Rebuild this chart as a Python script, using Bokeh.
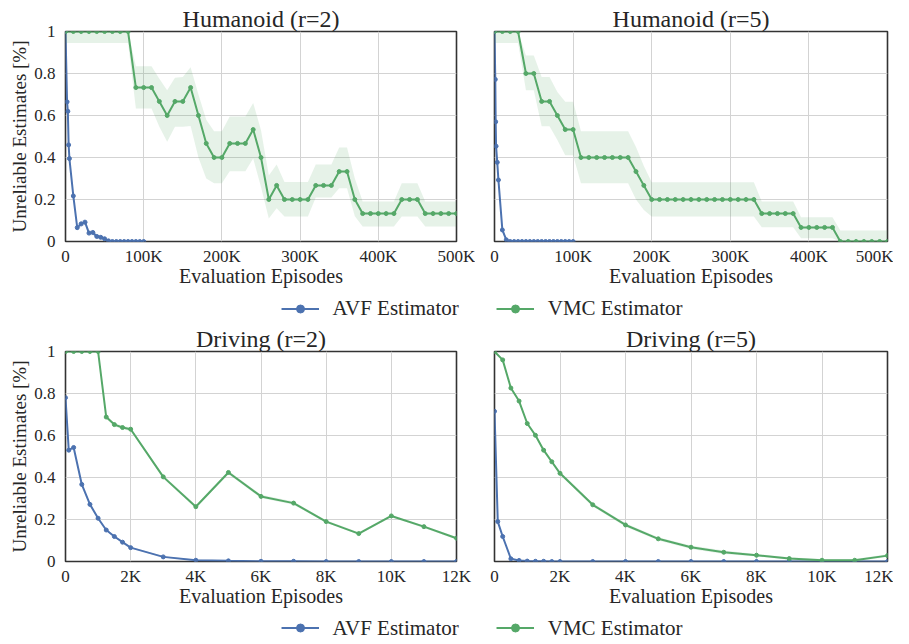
from bokeh.plotting import figure
from bokeh.layouts import column, row
from bokeh.models import Range1d, FixedTicker, Legend, LegendItem, ColumnDataSource
from bokeh.embed import file_html
from bokeh.resources import INLINE

# ---------------- data ----------------
# Humanoid: x in thousands of evaluation episodes
H_VMC_X = list(range(0, 501, 10))
H2_VMC_Y = [1.0, 1.0, 1.0, 1.0, 1.0, 1.0, 1.0, 1.0, 1.0,
            0.733, 0.733, 0.733, 0.667, 0.6, 0.667, 0.667, 0.733, 0.6, 0.467,
            0.4, 0.4, 0.467, 0.467, 0.467, 0.533, 0.4, 0.2, 0.267, 0.2,
            0.2, 0.2, 0.2, 0.267, 0.267, 0.267, 0.333, 0.333, 0.2, 0.133,
            0.133, 0.133, 0.133, 0.133, 0.2, 0.2, 0.2, 0.133, 0.133, 0.133,
            0.133, 0.133]
H2_VMC_LO = [0.945, 0.945, 0.945, 0.945, 0.945, 0.945, 0.945, 0.945, 0.945,
             0.633, 0.633, 0.633, 0.546, 0.475, 0.546, 0.546, 0.55, 0.40, 0.30,
             0.277, 0.277, 0.335, 0.335, 0.335, 0.395, 0.26, 0.11, 0.158, 0.119,
             0.119, 0.119, 0.119, 0.21, 0.21, 0.21, 0.253, 0.253, 0.12, 0.071,
             0.071, 0.071, 0.071, 0.071, 0.119, 0.119, 0.119, 0.071, 0.071, 0.071,
             0.071, 0.071]
H2_VMC_HI = [1.0, 1.0, 1.0, 1.0, 1.0, 1.0, 1.0, 1.0, 1.0,
             0.835, 0.835, 0.835, 0.775, 0.72, 0.78, 0.783, 0.83, 0.70, 0.58,
             0.525, 0.525, 0.595, 0.595, 0.595, 0.66, 0.53, 0.314, 0.367, 0.283,
             0.283, 0.283, 0.283, 0.367, 0.367, 0.367, 0.448, 0.448, 0.30, 0.19,
             0.19, 0.19, 0.19, 0.19, 0.277, 0.277, 0.277, 0.19, 0.19, 0.19,
             0.19, 0.19]

H2_AVF_X = [0, 2, 3, 4, 5, 10, 15, 20, 25, 30, 35, 40, 45, 50, 55, 60, 65, 70,
            75, 80, 85, 90, 95, 100]
H2_AVF_Y = [1.0, 0.665, 0.62, 0.46, 0.395, 0.217, 0.066, 0.084, 0.092, 0.04,
            0.043, 0.024, 0.02, 0.013, 0.003, 0.0, 0.0, 0.0, 0.0, 0.0, 0.0, 0.0,
            0.0, 0.0]
H2_AVF_ERR = [0.0, 0.01, 0.01, 0.01, 0.01, 0.012, 0.012, 0.014, 0.014, 0.012,
              0.012, 0.01, 0.01, 0.008, 0.006, 0.006, 0.006, 0.006, 0.006, 0.006,
              0.006, 0.006, 0.006, 0.006]

H5_VMC_Y = [1.0, 1.0, 1.0, 1.0, 0.8, 0.8, 0.667, 0.667, 0.6, 0.533, 0.533,
            0.4, 0.4, 0.4, 0.4, 0.4, 0.4, 0.4, 0.333, 0.267,
            0.2, 0.2, 0.2, 0.2, 0.2, 0.2, 0.2, 0.2, 0.2, 0.2, 0.2, 0.2, 0.2, 0.2,
            0.133, 0.133, 0.133, 0.133, 0.133,
            0.067, 0.067, 0.067, 0.067, 0.067,
            0.0, 0.0, 0.0, 0.0, 0.0, 0.0, 0.0]
H5_VMC_LO = [0.945, 0.945, 0.945, 0.945, 0.72, 0.72, 0.549, 0.549, 0.483, 0.411, 0.411,
             0.277, 0.277, 0.277, 0.277, 0.277, 0.277, 0.277, 0.2, 0.15,
             0.119, 0.119, 0.119, 0.119, 0.119, 0.119, 0.119, 0.119, 0.119, 0.119,
             0.119, 0.119, 0.119, 0.119,
             0.068, 0.068, 0.068, 0.068, 0.068,
             0.016, 0.016, 0.016, 0.016, 0.016,
             0.0, 0.0, 0.0, 0.0, 0.0, 0.0, 0.0]
H5_VMC_HI = [1.0, 1.0, 1.0, 1.0, 0.886, 0.886, 0.783, 0.783, 0.712, 0.665, 0.665,
             0.525, 0.525, 0.525, 0.525, 0.525, 0.525, 0.525, 0.45, 0.36,
             0.282, 0.282, 0.282, 0.282, 0.282, 0.282, 0.282, 0.282, 0.282, 0.282,
             0.282, 0.282, 0.282, 0.282,
             0.19, 0.19, 0.19, 0.19, 0.19,
             0.116, 0.116, 0.116, 0.116, 0.116,
             0.052, 0.052, 0.052, 0.052, 0.052, 0.052, 0.052]

H5_AVF_X = [0, 1, 1.5, 2, 3.5, 5, 10, 15, 20, 25, 30, 35, 40, 45, 50, 55, 60,
            65, 70, 75, 80, 85, 90, 95, 100]
H5_AVF_Y = [1.0, 0.772, 0.57, 0.454, 0.377, 0.293, 0.055, 0.008, 0.0, 0.0, 0.0,
            0.0, 0.0, 0.0, 0.0, 0.0, 0.0, 0.0, 0.0, 0.0, 0.0, 0.0, 0.0, 0.0, 0.0]
H5_AVF_ERR = [0.0, 0.01, 0.01, 0.01, 0.01, 0.01, 0.01, 0.008, 0.007, 0.007, 0.007,
              0.007, 0.007, 0.007, 0.007, 0.007, 0.007, 0.007, 0.007, 0.007, 0.007,
              0.007, 0.007, 0.007, 0.007]

# Driving: x in thousands of evaluation episodes
D_VMC_X = [0, 0.25, 0.5, 0.75, 1.0, 1.25, 1.5, 1.75, 2, 3, 4, 5, 6, 7, 8, 9, 10, 11, 12]
D2_VMC_Y = [1.0, 1.0, 1.0, 1.0, 1.0, 0.688, 0.652, 0.638, 0.63, 0.403, 0.261,
            0.424, 0.31, 0.278, 0.19, 0.133, 0.217, 0.166, 0.111]
D5_VMC_Y = [1.0, 0.96, 0.826, 0.764, 0.657, 0.601, 0.53, 0.475, 0.42, 0.27, 0.174,
            0.108, 0.068, 0.044, 0.03, 0.014, 0.006, 0.006, 0.028]
D_VMC_ERR = [0.0, 0.004, 0.006, 0.006, 0.006, 0.008, 0.008, 0.008, 0.008, 0.008,
             0.008, 0.008, 0.008, 0.008, 0.006, 0.006, 0.006, 0.006, 0.006]

D_AVF_X = [0, 0.1, 0.25, 0.5, 0.75, 1.0, 1.25, 1.5, 1.75, 2, 3, 4, 5, 6, 7, 8, 9, 10, 11, 12]
D2_AVF_Y = [0.78, 0.53, 0.543, 0.367, 0.272, 0.206, 0.15, 0.119, 0.092, 0.066,
            0.022, 0.006, 0.003, 0.001, 0.001, 0.0, 0.0, 0.0, 0.0, 0.0]
D5_AVF_Y = [0.715, 0.19, 0.119, 0.013, 0.005, 0.002, 0.001, 0.001, 0.0, 0.0,
            0.0, 0.0, 0.0, 0.0, 0.0, 0.0, 0.0, 0.0, 0.0, 0.0]
D_AVF_ERR = [0.003] * len(D_AVF_X)

H_XTICKS = [0, 100, 200, 300, 400, 500]
H_XLABELS = ["0", "100K", "200K", "300K", "400K", "500K"]
D_XTICKS = [0, 2, 4, 6, 8, 10, 12]
D_XLABELS = ["0", "2K", "4K", "6K", "8K", "10K", "12K"]
Y_TICKS = [0, 0.2, 0.4, 0.6, 0.8, 1.0]
Y_LABELS = ["0", "0.2", "0.4", "0.6", "0.8", "1"]

TITLES = ["Humanoid (r=2)", "Humanoid (r=5)", "Driving (r=2)", "Driving (r=5)"]
SERIES_NAMES = ["AVF Estimator", "VMC Estimator"]
X_LABEL = "Evaluation Episodes"
Y_LABEL = "Unreliable Estimates [%]"

# ---------------- style ----------------
BLUE = "#4C72B0"
GREEN = "#55A868"
FONT = "Liberation Serif"
TXT = "#262626"


def panel(title, xmax, xticks, xlabels, show_y, width, height, bl, br, bt, bb):
    p = figure(width=width, height=height, toolbar_location=None, output_backend="svg",
               x_range=Range1d(0, xmax), y_range=Range1d(0, 1),
               min_border_left=bl, min_border_right=br, min_border_top=bt,
               min_border_bottom=bb)
    p.title.text = title
    p.title.text_font = FONT
    p.title.text_font_size = "24px"
    p.title.text_font_style = "normal"
    p.title.text_color = TXT
    p.title.align = "center"
    p.title.standoff = 0
    p.outline_line_color = "#333333"
    p.outline_line_width = 1.6

    p.xaxis.axis_line_color = None
    p.yaxis.axis_line_color = None
    p.xaxis.major_tick_line_color = None
    p.yaxis.major_tick_line_color = None
    p.xaxis.minor_tick_line_color = None
    p.yaxis.minor_tick_line_color = None
    p.xaxis.major_tick_in = 0
    p.xaxis.major_tick_out = 0
    p.yaxis.major_tick_in = 0
    p.yaxis.major_tick_out = 0
    p.xaxis.minor_tick_out = 0
    p.yaxis.minor_tick_out = 0

    p.xaxis.major_label_text_font = FONT
    p.yaxis.major_label_text_font = FONT
    p.xaxis.major_label_text_font_size = "17px"
    p.yaxis.major_label_text_font_size = "17px"
    p.xaxis.major_label_text_color = TXT
    p.yaxis.major_label_text_color = TXT
    p.xaxis.axis_label_text_font = FONT
    p.yaxis.axis_label_text_font = FONT
    p.xaxis.axis_label_text_font_style = "normal"
    p.yaxis.axis_label_text_font_style = "normal"
    p.xaxis.axis_label_text_color = TXT
    p.yaxis.axis_label_text_color = TXT
    p.xaxis.axis_label_text_font_size = "20px"
    p.yaxis.axis_label_text_font_size = "19px"

    p.xaxis.ticker = FixedTicker(ticks=xticks)
    p.xaxis.major_label_overrides = {t: l for t, l in zip(xticks, xlabels)}
    p.xaxis.axis_label = X_LABEL
    p.xaxis.major_label_standoff = 5
    p.xaxis.axis_label_standoff = -4
    p.yaxis.ticker = FixedTicker(ticks=Y_TICKS)
    p.yaxis.major_label_overrides = {t: l for t, l in zip(Y_TICKS, Y_LABELS)}
    p.yaxis.major_label_standoff = 10
    p.yaxis.axis_label_standoff = 1
    if show_y:
        p.yaxis.axis_label = Y_LABEL
    else:
        p.yaxis.visible = False
    p.xgrid.grid_line_color = "#d3d3d3"
    p.ygrid.grid_line_color = "#d3d3d3"
    p.xgrid.grid_line_width = 1
    p.ygrid.grid_line_width = 1
    return p


def draw(p, x, y, lo, hi, color, band_alpha):
    p.varea(x=x, y1=lo, y2=hi, fill_color=color, fill_alpha=band_alpha)
    p.line(x, y, line_color=color, line_width=2)
    p.scatter(x, y, size=4, fill_color=color, line_color=color)


def pm(y, e):
    return [max(0.0, a - b) for a, b in zip(y, e)], [min(1.0, a + b) for a, b in zip(y, e)]


W1, W2 = 475, 418
H1, H2 = 293, 290

p1 = panel(TITLES[0], 500, H_XTICKS, H_XLABELS, True, W1, H1, 65, 19, 31, 52)
lo, hi = pm(H2_AVF_Y, H2_AVF_ERR)
draw(p1, H2_AVF_X, H2_AVF_Y, lo, hi, BLUE, 0.2)
draw(p1, H_VMC_X, H2_VMC_Y, H2_VMC_LO, H2_VMC_HI, GREEN, 0.15)

p2 = panel(TITLES[1], 500, H_XTICKS, H_XLABELS, False, W2, H1, 19, 6, 31, 52)
lo, hi = pm(H5_AVF_Y, H5_AVF_ERR)
draw(p2, H5_AVF_X, H5_AVF_Y, lo, hi, BLUE, 0.2)
draw(p2, H_VMC_X, H5_VMC_Y, H5_VMC_LO, H5_VMC_HI, GREEN, 0.15)

p3 = panel(TITLES[2], 12, D_XTICKS, D_XLABELS, True, W1, H2, 65, 19, 28, 52)
lo, hi = pm(D2_AVF_Y, D_AVF_ERR)
draw(p3, D_AVF_X, D2_AVF_Y, lo, hi, BLUE, 0.2)
lo, hi = pm(D2_VMC_Y, D_VMC_ERR)
draw(p3, D_VMC_X, D2_VMC_Y, lo, hi, GREEN, 0.15)

p4 = panel(TITLES[3], 12, D_XTICKS, D_XLABELS, False, W2, H2, 19, 6, 28, 52)
lo, hi = pm(D5_AVF_Y, D_AVF_ERR)
draw(p4, D_AVF_X, D5_AVF_Y, lo, hi, BLUE, 0.2)
lo, hi = pm(D5_VMC_Y, D_VMC_ERR)
draw(p4, D_VMC_X, D5_VMC_Y, lo, hi, GREEN, 0.15)


def legend_fig(height):
    lf = figure(width=W1 + W2, height=height, toolbar_location=None, output_backend="svg",
                x_range=Range1d(0, 1), y_range=Range1d(0, 1),
                x_axis_type=None, y_axis_type=None,
                min_border_left=70, min_border_right=0, min_border_top=0, min_border_bottom=0)
    lf.outline_line_color = None
    lf.xgrid.visible = False
    lf.ygrid.visible = False
    items = []
    for name, color in zip(SERIES_NAMES, [BLUE, GREEN]):
        src = ColumnDataSource(dict(x=[-5, -4], y=[-5, -5]))
        r1 = lf.line("x", "y", source=src, line_color=color, line_width=2)
        r2 = lf.scatter("x", "y", source=src, size=3, fill_color=color, line_color=color)
        items.append(LegendItem(label=name, renderers=[r1, r2]))
    leg = Legend(items=items, orientation="horizontal", location="center",
                 label_text_font=FONT, label_text_font_size="21px", label_text_color=TXT,
                 glyph_width=38, glyph_height=20, label_height=20, label_standoff=14,
                 spacing=37, padding=0, margin=0,
                 border_line_color=None, background_fill_alpha=0)
    lf.add_layout(leg, "center")
    return lf


leg1 = legend_fig(30)
leg2 = legend_fig(29)

layout = column(row(p1, p2), leg1, row(p3, p4), leg2)

open("out.html", "w").write(file_html(layout, INLINE))
